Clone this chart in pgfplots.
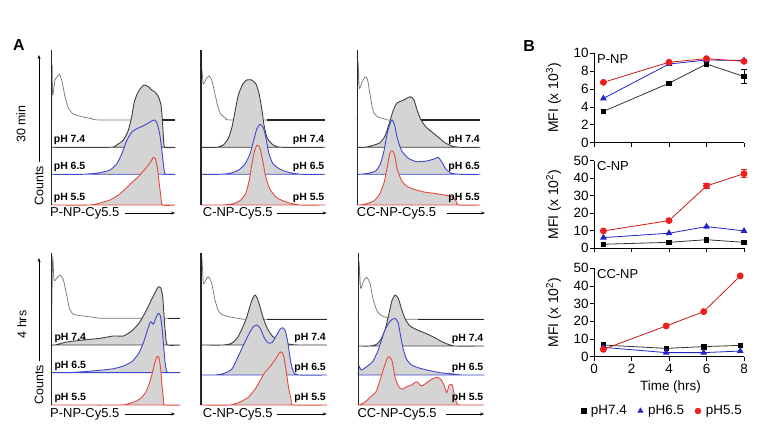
\documentclass[border=0pt]{standalone}
\usepackage{fontspec}
\setmainfont{Liberation Sans}
\usepackage{pgfplots}
\pgfplotsset{compat=1.18}
\usetikzlibrary{arrows.meta}
\definecolor{hblue}{RGB}{62,72,205}
\definecolor{hred}{RGB}{228,74,66}
\definecolor{hfill}{RGB}{212,212,212}
\definecolor{lblue}{RGB}{35,35,200}
\definecolor{lred}{RGB}{236,30,30}
\pgfplotsset{
  histax/.style={hide axis, clip=false, x=1bp, y=1bp, xmin=0, ymin=0, anchor=south west,
    every axis plot/.append style={smooth, tension=0.35, line join=round, mark=none}},
  ctrl/.style={draw=black!55, line width=0.7bp},
  thk/.style={draw=black!85, line width=1.2bp},
  r1/.style={draw=black!75, fill=hfill, line width=0.9bp},
  r2/.style={draw=hblue, fill=hfill, line width=0.9bp},
  r3/.style={draw=hred, fill=hfill, line width=0.9bp},
  vax/.style={draw=black!85, line width=1.3bp},
  bax/.style={scale only axis, width=150bp, xmin=0, xmax=8, axis lines=left,
    axis line style={-, line width=0.8bp}, tick align=outside,
    tick style={black, line width=0.8bp}, major tick length=4.2bp,
    xtick={0,2,4,6,8}, anchor=south west, clip=false,
    /pgf/number format/assume math mode=true,
    tick label style={font=\fontsize{13.5}{15}\selectfont},
    ylabel style={at={(axis description cs:-0.27,0.5)}, anchor=center, font=\fontsize{14}{16}\selectfont},
    yticklabel style={inner sep=1bp}},
  blk/.style={draw=black!80, line width=0.8bp, mark=square*, mark size=2.3bp, mark options={fill=black, draw=black}},
  blu/.style={draw=lblue, line width=0.8bp, mark=triangle*, mark size=3.1bp, mark options={fill=lblue, draw=lblue}},
  rd/.style={draw=lred!85!black, line width=0.8bp, mark=*, mark size=3bp, mark options={fill=lred, draw=lred}},
  eb/.style={forget plot, only marks, mark=none, error bars/.cd, y dir=both, y explicit,
    error bar style={line width=0.8bp, #1}, error mark options={rotate=90, mark size=3.2bp, line width=0.8bp, #1}},
}
\newcommand{\phl}{\bfseries\fontsize{10.5}{12}\selectfont}
\newcommand{\labf}{\fontsize{13}{15}\selectfont}
\begin{document}
\begin{tikzpicture}[x=1bp,y=1bp]
\path[use as bounding box] (0,0) rectangle (778,446);
\node[font=\bfseries\fontsize{16}{18}\selectfont] at (19,401) {A};
\node[font=\bfseries\fontsize{16}{18}\selectfont] at (529,400) {B};
% side labels
\node[rotate=90, font=\fontsize{12.5}{14}\selectfont] at (21,322) {30 min};
\node[rotate=90, font=\fontsize{12.5}{14}\selectfont] at (39,260) {Counts};
\draw[-{Stealth[length=4bp,width=3bp]}, line width=0.6bp] (39,284) -- (39,391);
\node[rotate=90, font=\fontsize{12.5}{14}\selectfont] at (22,121.5) {4 hrs};
\node[rotate=90, font=\fontsize{12.5}{14}\selectfont] at (39,61) {Counts};
\draw[-{Stealth[length=4bp,width=3bp]}, line width=0.6bp] (39,85) -- (39,188);
% x labels
\node[anchor=west, inner sep=0, font=\labf] (a1) at (50,233) {P-NP-Cy5.5};
\draw[-{Stealth[length=4bp,width=3bp]}, line width=0.6bp] (125,233) -- (175,233);
\node[anchor=west, inner sep=0, font=\labf] (a2) at (202.7,233) {C-NP-Cy5.5};
\draw[-{Stealth[length=4bp,width=3bp]}, line width=0.6bp] (276.7,233) -- (326.7,233);
\node[anchor=west, inner sep=0, font=\labf] (a3) at (356.7,233) {CC-NP-Cy5.5};
\draw[-{Stealth[length=4bp,width=3bp]}, line width=0.6bp] (446.7,233) -- (485,233);
\node[anchor=west, inner sep=0, font=\labf] (b1) at (50,32) {P-NP-Cy5.5};
\draw[-{Stealth[length=4bp,width=3bp]}, line width=0.6bp] (125,32) -- (175,32);
\node[anchor=west, inner sep=0, font=\labf] (b2) at (202.7,32) {C-NP-Cy5.5};
\draw[-{Stealth[length=4bp,width=3bp]}, line width=0.6bp] (276.7,32) -- (326.7,32);
\node[anchor=west, inner sep=0, font=\labf] (b3) at (357.3,32) {CC-NP-Cy5.5};
\draw[-{Stealth[length=4bp,width=3bp]}, line width=0.6bp] (446,32) -- (484,32);

% ---------- TL
\begin{axis}[histax, at={(51.7bp,241bp)}, xmax=123.3, ymax=155]
\addplot[ctrl] coordinates {(0,85)(0.4,140)(1,110)(3.3,125)(5.7,128.3)(7.7,130.7)(10,125)(13.3,108.3)(16.7,96.7)(21.7,91)(30,88.3)(40,86.3)(48.3,85)(123.3,85)};
\addplot[thk] coordinates {(111,85)(123.3,85)};
\addplot[r1] coordinates {(0,57.7)(58.3,57.7)(65,60)(71.7,65)(76.7,75)(80,88.3)(82.3,101.7)(85,110)(88.3,116)(92.3,120)(96.7,118.3)(100,115)(103.3,113)(106.7,108.3)(109.3,100)(110.7,85)(111.7,68.3)(113,57.7)(123.3,57.7)} -- cycle;
\addplot[r2] coordinates {(0,30.7)(31.7,30.7)(48.3,32.3)(58.3,35)(65,41)(70,51)(75,64.3)(80,72.7)(85,76.3)(90,78.3)(95,81)(100,84)(103.3,85)(105.7,80.7)(108.3,69)(110.7,50)(112.3,35.7)(114,30.7)(123.3,30.7)} -- cycle;
\addplot[r3] coordinates {(0,0)(38.3,0)(48.3,2)(58.3,5)(66.7,10)(74.3,16.7)(81,23.3)(86.7,28.3)(91,33.3)(95,37.7)(99,43.3)(101.7,47.7)(103.7,46.7)(105.7,36.7)(107.3,23.3)(109,10)(110.7,0)(123.3,0)} -- cycle;
\addplot[vax] coordinates {(0,0)(0,155)};
\node[anchor=base west, inner sep=0, font=\phl] at (axis cs:2,62) {pH 7.4};
\node[anchor=base west, inner sep=0, font=\phl] at (axis cs:2,35) {pH 6.5};
\node[anchor=base west, inner sep=0, font=\phl] at (axis cs:2,4.3) {pH 5.5};
\end{axis}
% ---------- TM
\begin{axis}[histax, at={(201bp,241bp)}, xmax=124, ymax=155]
\addplot[ctrl] coordinates {(0,85)(0.7,135)(2.3,121)(5,125.7)(8,129)(10.7,125)(14,111)(16.7,99)(19.7,91)(24.7,86.7)(30.7,85)(124,85)};
\addplot[thk] coordinates {(66,85)(124,85)};
\addplot[r1] coordinates {(0,57.7)(15.7,57.7)(22.3,60)(27.3,66.7)(30.7,76.7)(34,93.3)(37.3,110)(41.7,120.7)(45.7,125)(50.7,125)(55,121)(58,111.7)(60.7,96.7)(63,80)(66.3,66.7)(72.3,60)(80.7,57.7)(124,57.7)} -- cycle;
\addplot[r2] coordinates {(0,30.7)(19,30.7)(29,31.7)(37.3,34.7)(44,41)(49,51)(52.3,63.3)(55.7,75.7)(59,80.7)(62.3,77.3)(65,66.7)(67.7,52.3)(71.7,41.7)(79,35.7)(89,32.3)(100.7,30.7)(124,30.7)} -- cycle;
\addplot[r3] coordinates {(0,0)(22.3,0)(32.3,1.3)(39,4.3)(44.7,11.7)(48.3,25)(51,41.7)(53.7,55)(56.3,60)(59,56.7)(61.7,44.3)(64.7,28.3)(69,15.7)(75.7,7.3)(85.7,2.7)(99,0)(124,0)} -- cycle;
\addplot[vax] coordinates {(0,0)(0,155)};
\node[anchor=base east, inner sep=0, font=\phl] at (axis cs:123.5,62) {pH 7.4};
\node[anchor=base east, inner sep=0, font=\phl] at (axis cs:123.5,35) {pH 6.5};
\node[anchor=base east, inner sep=0, font=\phl] at (axis cs:123.5,4.3) {pH 5.5};
\end{axis}
% ---------- TR
\begin{axis}[histax, at={(357.3bp,241bp)}, xmax=122.7, ymax=155]
\addplot[ctrl] coordinates {(0,85)(0.7,143.3)(2,116.7)(4.3,121.7)(7.7,128.3)(10.3,125)(13.3,106.7)(16,93.3)(20,88.3)(27.7,86)(34.3,85)(122.7,85)};
\addplot[thk] coordinates {(63,85)(122.7,85)};
\addplot[r1] coordinates {(0,57.7)(7.7,57.7)(16,59.7)(22.7,62.3)(27.7,69)(32,81.7)(36,95)(40,102.3)(45.3,104.3)(49.3,106.7)(53.3,108.3)(56.7,105)(59.3,96.7)(63.3,85.7)(68.7,78)(74.3,73.3)(81,67.7)(87.7,62.3)(94.3,59)(102,57.7)(122.7,57.7)} -- cycle;
\addplot[r2] coordinates {(0,30.7)(2.7,30.7)(11,31.7)(18.7,34.3)(23.3,41.7)(27,55.7)(30.3,73.3)(34.3,85)(37.3,80)(40,66.7)(44.3,54.3)(51,46.7)(59.3,43.3)(69.3,44)(76.7,46)(81,47.7)(84.3,43.3)(88.7,35.7)(94.3,31.7)(102.7,30.7)(122.7,30.7)} -- cycle;
\addplot[r3] coordinates {(0,0)(2.7,0)(11,1.7)(17.7,5)(22.7,11.7)(27,23.3)(30.3,40)(32.7,52.3)(35,54.3)(37.3,50)(40,35.7)(44.3,24.3)(49.3,19)(56.7,15.7)(66.7,13)(76.7,11.7)(86.7,10)(94.3,8.3)(98.7,4.3)(101,0)(122.7,0)} -- cycle;
\addplot[vax] coordinates {(0,0)(0,155)};
\node[anchor=base east, inner sep=0, font=\phl] at (axis cs:122.7,62) {pH 7.4};
\node[anchor=base east, inner sep=0, font=\phl] at (axis cs:122.7,35) {pH 6.5};
\node[anchor=base east, inner sep=0, font=\phl] at (axis cs:122.7,4.3) {pH 5.5};
\end{axis}
% ---------- BL
\begin{axis}[histax, at={(51.7bp,41bp)}, xmax=128.3, ymax=152]
\addplot[ctrl] coordinates {(0,86.7)(1,148.3)(2.3,125)(5,126.7)(8.3,130)(11.7,125)(15,110)(17.7,96.7)(21.7,90.7)(31.7,89)(45,87.3)(51.7,86.7)(128.3,86.7)};
\addplot[thk] coordinates {(116,86.7)(128.3,86.7)};
\addplot[r1] coordinates {(0,60)(3.3,60)(15,63)(31.7,65)(48.3,66.7)(61.7,69)(71.7,69)(80,74)(87.7,82.3)(94.3,94)(99.3,104.3)(103.3,112.3)(106.7,118.3)(109.3,116.7)(111,108.3)(112.3,90)(114,68.3)(116,60)(128.3,60)} -- cycle;
\addplot[r2] coordinates {(0,32.3)(15,32.3)(31.7,33.3)(48.3,34.7)(61.7,36.3)(71.7,39)(80,43.3)(86.7,51)(91.7,62.3)(96,75.7)(99,83.3)(101.7,80.7)(104,86.7)(106.7,91.7)(108.7,89)(110.3,77.7)(111.7,61.7)(113.3,43.3)(115,33.3)(118.3,32.3)(128.3,32.3)} -- cycle;
\addplot[r3] coordinates {(0,0)(68.3,0)(76.7,1.3)(83.3,3.3)(89,6.7)(93.7,12.3)(97.7,21.7)(100.7,32.3)(103,41.7)(105.3,48.3)(107.3,47.3)(109,35.7)(110.3,20)(111.7,6.7)(113,0)(128.3,0)} -- cycle;
\addplot[vax] coordinates {(0,0)(0,152)};
\node[anchor=base west, inner sep=0, font=\phl] at (axis cs:2.7,64.3) {pH 7.4};
\node[anchor=base west, inner sep=0, font=\phl] at (axis cs:2.7,36.6) {pH 6.5};
\node[anchor=base west, inner sep=0, font=\phl] at (axis cs:2.7,4.3) {pH 5.5};
\end{axis}
% ---------- BM
\begin{axis}[histax, at={(201bp,41bp)}, xmax=125.7, ymax=152]
\addplot[ctrl] coordinates {(0,85.7)(0.7,148.3)(2.3,121.7)(4.7,125)(7.3,128.3)(10.7,121.7)(14,105)(17.3,94.3)(21.7,90)(30.7,87.7)(40.7,86)(47.3,85.7)(125.7,85.7)};
\addplot[thk] coordinates {(66,85.7)(125.7,85.7)};
\addplot[r1] coordinates {(0,60)(22.3,60)(30.7,61.7)(36.7,67.7)(41.7,77.7)(45.7,87.7)(49,99)(51.7,106.7)(54,110)(56.3,106.7)(59,98.3)(62.3,86.7)(66.3,76.7)(71.3,69)(79,63.3)(89,60.7)(97.3,60)(125.7,60)} -- cycle;
\addplot[r2] coordinates {(0,30)(14,30)(22.3,31.3)(30.7,35.7)(36.3,46.7)(43,61)(48.3,71.7)(52.3,78.3)(56.3,80)(59.7,75.7)(63,67.7)(66.7,62.3)(71,62.3)(75.7,70)(79,75.7)(81.7,77.3)(84.3,74.3)(86.7,63.3)(89.3,45.7)(92.3,33.3)(97.3,30)(125.7,30)} -- cycle;
\addplot[r3] coordinates {(0,0)(29,0)(39,3)(47.3,7.7)(54,15.7)(59,24.3)(64,32.7)(69,38.3)(74,45)(77.7,51)(80.3,53.3)(82.7,49)(85,35)(87.7,16.7)(90.3,4.3)(92.3,0)(125.7,0)} -- cycle;
\addplot[vax] coordinates {(0,0)(0,152)};
\node[anchor=base east, inner sep=0, font=\phl] at (axis cs:125,64.3) {pH 7.4};
\node[anchor=base east, inner sep=0, font=\phl] at (axis cs:125,34.3) {pH 6.5};
\node[anchor=base east, inner sep=0, font=\phl] at (axis cs:125,4.3) {pH 5.5};
\end{axis}
% ---------- BR
\begin{axis}[histax, at={(358.3bp,41bp)}, xmax=125.7, ymax=152]
\addplot[ctrl] coordinates {(0,85.7)(0.7,143.3)(2.3,116.7)(5,123.3)(8.3,127.7)(11.7,121.7)(15,105)(19,93.3)(24,89)(31.7,86.7)(41.7,85.7)(125.7,85.7)};
\addplot[thk] coordinates {(60,85.7)(125.7,85.7)};
\addplot[r1] coordinates {(0,59)(11.7,59)(18.3,60.7)(22.7,65.7)(26.7,75)(30,88.3)(33.3,103.3)(36.7,110)(40,106.7)(43.3,95.7)(47,85.7)(51.7,79)(59,75)(67.3,71.7)(75.7,67.7)(82.3,64)(89,61)(96.7,59)(125.7,59)} -- cycle;
\addplot[r2] coordinates {(0,30)(0.7,39)(3,35)(8.3,38.3)(14.3,43.3)(19.3,53.3)(23,64.3)(26.7,75)(30.7,82.3)(34,85.7)(37.3,86.3)(40,81.7)(42.3,69)(45,55.7)(48.3,45.7)(53.3,40)(61.7,36.7)(71.7,34.3)(81.7,32.3)(95,31)(103.3,30)(125.7,30)} -- cycle;
\addplot[r3] coordinates {(0,0)(1,0)(6.7,3)(11.7,7.7)(17.7,13.3)(22.3,26.7)(26,38.3)(29,46.7)(31,48.3)(33.7,44.3)(36.7,28.3)(40,19)(43.7,15.7)(48.3,18.3)(53.3,20)(58.3,23.3)(63.3,19)(68.3,22.3)(73.3,25.7)(78.3,27.7)(82.3,26)(85.7,20)(88.3,12.3)(91,20)(94,20)(96.3,8.3)(99,1)(101.7,0)(125.7,0)} -- cycle;
\addplot[vax] coordinates {(0,0)(0,152)};
\node[anchor=base east, inner sep=0, font=\phl] at (axis cs:125.2,63.3) {pH 7.4};
\node[anchor=base east, inner sep=0, font=\phl] at (axis cs:125.2,34.3) {pH 6.5};
\node[anchor=base east, inner sep=0, font=\phl] at (axis cs:125.2,4.3) {pH 5.5};
\end{axis}

% ---------- B1 P-NP
\begin{axis}[bax, at={(594bp,303.3bp)}, height=89.4bp, ymin=0, ymax=10, ytick={0,2,4,6,8,10}, xticklabels={},
  ylabel={MFI (x 10\textsuperscript{3})}]
\addplot[eb=black] table[x=x,y=y,y error=e] {
x y e
8 7.4 0.75
};
\addplot[blk] table[x=x,y=y] {
x y
0.5 3.5
4 6.65
6 8.8
8 7.4
};
\addplot[blu] table[x=x,y=y] {
x y
0.5 4.95
4 8.8
6 9.25
8 9.2
};
\addplot[rd] table[x=x,y=y] {
x y
0.5 6.75
4 9.0
6 9.4
8 9.1
};
\node[anchor=north west, inner sep=0, font=\fontsize{13}{15}\selectfont] at (axis description cs:0.02,0.99) {P-NP};
\end{axis}
% ---------- B2 C-NP
\begin{axis}[bax, at={(594bp,197.7bp)}, height=87.6bp, ymin=0, ymax=50, ytick={0,10,20,30,40,50}, xticklabels={},
  ylabel={MFI (x 10\textsuperscript{2})}]
\addplot[eb=lred] table[x=x,y=y,y error=e] {
x y e
6 35.6 1.7
8 42.6 2.2
};
\addplot[blk] table[x=x,y=y] {
x y
0.5 2.3
4 3.4
6 4.9
8 3.4
};
\addplot[blu] table[x=x,y=y] {
x y
0.5 6.1
4 8.6
6 12.4
8 9.9
};
\addplot[rd] table[x=x,y=y] {
x y
0.5 9.9
4 15.8
6 35.6
8 42.6
};
\node[anchor=north west, inner sep=0, font=\fontsize{13}{15}\selectfont] at (axis description cs:0.02,0.99) {C-NP};
\end{axis}
% ---------- B3 CC-NP
\begin{axis}[bax, at={(594bp,89.3bp)}, height=88.4bp, ymin=0, ymax=50, ytick={0,10,20,30,40,50},
  ylabel={MFI (x 10\textsuperscript{2})}, xlabel={Time (hrs)},
  xlabel style={at={(axis description cs:0.51,-0.34)}, anchor=center, font=\fontsize{13.5}{15}\selectfont},
  legend columns=3,
  legend style={draw=none, fill=none, at={(axis description cs:0.457,-0.614)}, anchor=center,
    font=\fontsize{13.5}{15}\selectfont, /tikz/every even column/.append style={column sep=9bp},
    /tikz/every odd column/.append style={column sep=3bp}},
  legend cell align=left]
\addlegendimage{only marks, mark=square*, mark size=2.3bp, black}
\addlegendimage{only marks, mark=triangle*, mark size=3.1bp, lblue}
\addlegendimage{only marks, mark=*, mark size=3bp, lred}
\addplot[blk] table[x=x,y=y] {
x y
0.5 6.6
3.85 4.7
5.85 5.7
7.8 6.4
};
\addplot[blu] table[x=x,y=y] {
x y
0.5 5.3
3.85 2.3
5.85 2.3
7.8 3.2
};
\addplot[rd] table[x=x,y=y] {
x y
0.5 4.15
3.85 17.4
5.85 25.5
7.8 45.7
};
\legend{pH7.4,pH6.5,pH5.5}
\node[anchor=north west, inner sep=0, font=\fontsize{13}{15}\selectfont] at (axis description cs:0.02,0.99) {CC-NP};
\end{axis}
\end{tikzpicture}
\end{document}
